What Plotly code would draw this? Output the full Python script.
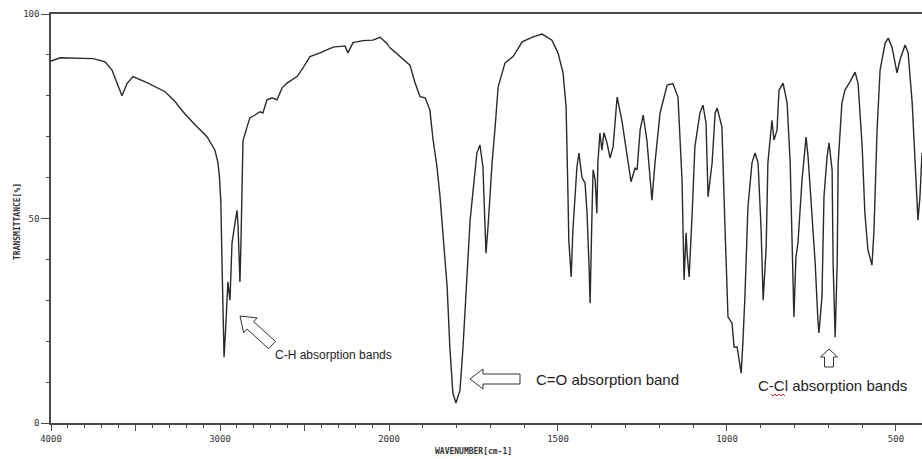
import plotly.graph_objects as go

# ---- data ----
wavenumber = [
    4000, 3994, 3947, 3751, 3680, 3639, 3609, 3580, 3550, 3515,
    3432, 3325, 3266, 3219, 3148, 3077, 3030, 3012, 3003, 2995,
    2988, 2982, 2976, 2968, 2959, 2953, 2941, 2929, 2911, 2899,
    2893, 2882, 2876, 2870, 2864, 2840, 2823, 2793, 2763, 2746,
    2722, 2692, 2663, 2633, 2604, 2544, 2509, 2468, 2408, 2331,
    2260, 2243, 2213, 2154, 2095, 2053, 2012, 2000,
    1967, 1938, 1923, 1908, 1893, 1879, 1870, 1858, 1849, 1840,
    1828, 1820, 1811, 1802, 1790, 1781, 1769, 1760, 1751, 1740,
    1731, 1722, 1719, 1713, 1707, 1695, 1686, 1677, 1657, 1633,
    1606, 1574, 1547, 1518, 1500, 1485, 1476, 1473, 1470, 1468,
    1461, 1456, 1444, 1438, 1429, 1420, 1414, 1408, 1405, 1399,
    1396, 1390, 1385, 1382, 1376, 1370, 1364, 1355, 1346, 1337,
    1325, 1311, 1296, 1284, 1272, 1266, 1257, 1248, 1237, 1222,
    1213, 1198, 1177, 1160, 1145, 1133, 1127, 1121, 1118, 1112,
    1103, 1095, 1080, 1071, 1062, 1056, 1044, 1035, 1029, 1015,
    1006, 997, 985, 979, 970, 958, 953, 947, 938, 926,
    917, 908, 899, 893, 884, 879, 867, 861, 852, 846,
    834, 822, 813, 805, 802, 796, 790, 778, 766, 760,
    748, 739, 731, 728, 719, 713, 704, 698, 689, 686,
    680, 674, 671, 660, 651, 636, 621, 612, 600, 592,
    583, 571, 565, 556, 547, 532, 523, 512, 497, 488,
    473, 464, 452, 444, 435, 429, 423,
]
transmittance = [
    88.5, 88.6, 89.3, 89.1, 88.3, 86.3, 83.1, 80.0, 83.0, 84.7,
    83.2, 81.0, 78.6, 76.1, 72.9, 70.0, 66.7, 63.6, 60.0, 54.0,
    39.0, 22.7, 16.1, 22.0, 30.0, 34.5, 30.0, 44.0, 49.0, 52.0,
    48.0, 34.5, 44.0, 58.7, 69.0, 72.4, 74.6, 75.3, 76.1, 75.8,
    79.0, 79.5, 79.0, 81.9, 83.1, 84.7, 86.8, 89.6, 90.5, 91.9,
    92.2, 90.5, 93.0, 93.5, 93.6, 94.3, 92.8, 92.0,
    89.6, 87.5, 83.2, 79.8, 79.5, 76.5, 69.5, 62.6, 55.3, 45.5,
    33.3, 18.6, 7.3, 4.9, 8.0, 18.6, 35.0, 49.6, 57.0, 66.0,
    68.0, 62.6, 55.3, 41.5, 48.0, 63.6, 72.4, 82.2, 88.0, 89.6,
    93.2, 94.4, 95.1, 93.6, 90.5, 85.6, 77.3, 68.0, 53.8, 44.7,
    35.7, 47.0, 62.6, 66.0, 60.0, 58.7, 51.3, 38.0, 29.3, 52.8,
    61.9, 59.4, 51.3, 63.6, 70.9, 66.7, 71.0, 68.5, 64.8, 67.5,
    79.7, 74.0, 66.0, 59.0, 62.3, 61.9, 71.6, 75.3, 69.2, 54.5,
    63.6, 75.8, 82.6, 83.0, 79.7, 59.4, 35.0, 46.5, 41.5, 35.7,
    51.3, 67.5, 75.8, 77.7, 73.3, 55.3, 63.6, 75.8, 77.0, 72.4,
    48.0, 25.9, 24.4, 18.6, 18.6, 12.2, 19.6, 30.8, 52.8, 63.6,
    66.0, 63.6, 47.2, 30.0, 43.0, 63.6, 74.0, 69.2, 71.6, 81.4,
    83.1, 78.2, 63.6, 39.9, 25.9, 40.6, 44.0, 59.4, 69.9, 65.0,
    49.6, 39.0, 25.2, 22.0, 30.8, 55.3, 65.0, 68.5, 61.9, 39.0,
    21.0, 39.0, 63.6, 78.2, 81.4, 83.4, 85.8, 83.0, 67.5, 51.3,
    42.3, 38.6, 47.2, 71.6, 86.3, 92.9, 94.1, 92.0, 85.6, 88.8,
    92.4, 90.5, 78.2, 63.6, 49.6, 55.3, 66.0,
]
assert len(wavenumber) == len(transmittance)

y_tick_vals = [0, 50, 100]
y_tick_text = ["0", "50", "100"]
x_hi_tick_vals = [4000, 3500, 3000, 2500, 2000]
x_hi_tick_text = ["4000", "", "3000", "", "2000"]
x_lo_tick_vals = [1500, 1000, 500]
x_lo_tick_text = ["1500", "1000", "500"]
labels = ["C-H absorption bands", "C=O absorption band", "C-Cl absorption bands"]

# split at 2000 cm-1: the spectrum uses a 2x expanded scale below 2000
hi_x = [w for w in wavenumber if w >= 2000]
hi_y = [t for w, t in zip(wavenumber, transmittance) if w >= 2000]
lo_x = [w for w in wavenumber if w <= 2000]
lo_y = [t for w, t in zip(wavenumber, transmittance) if w <= 2000]

W, H = 922, 459
L, R, T, B = 51, 0, 14, 36
PW, PH = W - L - R, H - T - B
SPLIT = (389 - L) / PW

LINE = "#2a2a2a"
AX = "#4a4a4a"
TICKFONT = dict(family="DejaVu Sans Mono", size=9, color="#333")

fig = go.Figure()
fig.add_trace(go.Scatter(x=hi_x, y=hi_y, mode="lines", xaxis="x", yaxis="y",
                         line=dict(color=LINE, width=1.4), showlegend=False,
                         hoverinfo="skip"))
fig.add_trace(go.Scatter(x=lo_x, y=lo_y, mode="lines", xaxis="x2", yaxis="y",
                         line=dict(color=LINE, width=1.4), showlegend=False,
                         hoverinfo="skip"))

common_x = dict(showline=True, linecolor=AX, linewidth=1.5, mirror=True,
                showgrid=False, zeroline=False, ticks="outside", ticklen=6,
                tickwidth=1.2, tickcolor=AX, tickfont=TICKFONT,
                minor=dict(dtick=100, ticks="outside", ticklen=3,
                           tickwidth=1.2, tickcolor=AX),
                tickmode="array", automargin=False, fixedrange=True)

fig.update_layout(
    width=W, height=H,
    margin=dict(l=L, r=R, t=T, b=B, pad=0),
    paper_bgcolor="white", plot_bgcolor="white",
    xaxis=dict(domain=[0, SPLIT], range=[4000, 2000], anchor="y",
               tickvals=x_hi_tick_vals, ticktext=x_hi_tick_text, **common_x),
    xaxis2=dict(domain=[SPLIT, 1], range=[2000, 423], anchor="y",
                tickvals=x_lo_tick_vals, ticktext=x_lo_tick_text, **common_x),
    yaxis=dict(range=[0, 100], showline=True, linecolor=AX, linewidth=1.5,
               showgrid=False, zeroline=False, ticks="outside", ticklen=8,
               tickwidth=1.2, tickcolor=AX, tickfont=TICKFONT,
               tickmode="array", tickvals=y_tick_vals, ticktext=y_tick_text,
               minor=dict(dtick=10, ticks="outside", ticklen=3, tickwidth=1.2,
                          tickcolor=AX),
               automargin=False, fixedrange=True),
)


def px(x):
    return (x - L) / PW


def py(y):
    return (H - B - y) / PH


def hollow_arrow(tip, tail, head_len, head_w, shaft_w):
    tx, ty = tip
    sx, sy = tail
    dx, dy = sx - tx, sy - ty
    n = (dx * dx + dy * dy) ** 0.5
    ux, uy = dx / n, dy / n
    nx, ny = -uy, ux
    bx, by = tx + ux * head_len, ty + uy * head_len
    pts = [
        (tx, ty),
        (bx + nx * head_w / 2, by + ny * head_w / 2),
        (bx + nx * shaft_w / 2, by + ny * shaft_w / 2),
        (sx + nx * shaft_w / 2, sy + ny * shaft_w / 2),
        (sx - nx * shaft_w / 2, sy - ny * shaft_w / 2),
        (bx - nx * shaft_w / 2, by - ny * shaft_w / 2),
        (bx - nx * head_w / 2, by - ny * head_w / 2),
    ]
    path = "M " + " L ".join(f"{px(x):.5f},{py(y):.5f}" for x, y in pts) + " Z"
    return dict(type="path", xref="paper", yref="paper", path=path,
                line=dict(color="#333", width=1), fillcolor="white",
                layer="above")


fig.add_shape(hollow_arrow((240, 316), (272, 345), 14, 20, 10))
fig.add_shape(hollow_arrow((470, 379), (520, 379), 13, 20, 10))
fig.add_shape(hollow_arrow((829, 349), (829, 367), 8, 17, 9))

# red spell-check squiggle under "Cl"
sq = []
xs = 771
i = 0
while xs <= 785:
    sq.append((xs, 394 if i % 2 == 0 else 396))
    xs += 2
    i += 1
fig.add_shape(dict(type="path", xref="paper", yref="paper",
                   path="M " + " L ".join(f"{px(x):.5f},{py(y):.5f}" for x, y in sq),
                   line=dict(color="#e03030", width=1)))

TXT = dict(family="Liberation Sans, Arial, sans-serif", color="#1e1e1e")
for txt, cx, cy, size in [(labels[0], 333, 355, 12),
                          (labels[1], 607, 379, 15),
                          (labels[2], 832, 385, 15)]:
    fig.add_annotation(x=px(cx), y=py(cy), xref="paper", yref="paper",
                       xanchor="center", yanchor="middle",
                       text=txt, showarrow=False, font=dict(size=size, **TXT))

# axis titles
fig.add_annotation(x=px(17), y=py(222), xref="paper", yref="paper",
                   xanchor="center", yanchor="middle",
                   text="<b>TRANSMITTANCE[%]</b>", textangle=-90, showarrow=False,
                   font=dict(family="DejaVu Sans Mono", size=8, color="#333"))
fig.add_annotation(x=px(473), y=py(451), xref="paper", yref="paper",
                   xanchor="center", yanchor="middle",
                   text="<b>WAVENUMBER[cm-1]</b>", showarrow=False,
                   font=dict(family="DejaVu Sans Mono", size=8, color="#333"))

fig.write_html("out.html")
